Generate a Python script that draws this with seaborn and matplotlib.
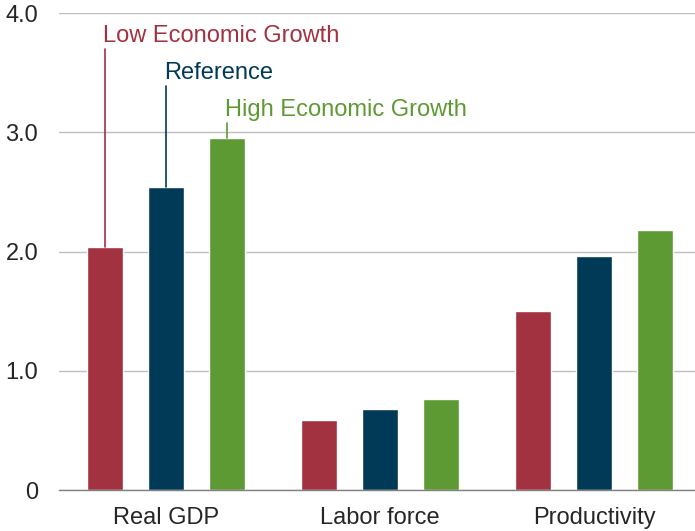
import pandas as pd
import matplotlib.pyplot as plt
import seaborn as sns

categories = ['Real GDP', 'Labor force', 'Productivity']
scenarios = ['Low Economic Growth', 'Reference', 'High Economic Growth']
low_growth = [2.04, 0.59, 1.50]
reference = [2.54, 0.68, 1.96]
high_growth = [2.95, 0.76, 2.18]
colors = ['#A33240', '#003A56', '#5E9A33']

# label placement for the leader lines on Real GDP (line top, text centre)
line_tops = [3.70, 3.39, 3.08]
text_y = [3.81, 3.50, 3.19]

rows = []
for s, vals in zip(scenarios, [low_growth, reference, high_growth]):
    for c, v in zip(categories, vals):
        rows.append({'category': c, 'scenario': s, 'value': v})
df = pd.DataFrame(rows)

sns.set_style('white')
plt.rcParams['font.family'] = ['Liberation Sans', 'DejaVu Sans']
plt.rcParams['font.size'] = 17

fig = plt.figure(figsize=(6.95, 5.31), dpi=100)
ax = fig.add_axes([0.085, 0.0772, 0.924, 0.8983])

sns.barplot(data=df, x='category', y='value', hue='scenario', order=categories,
            hue_order=scenarios, palette=colors, width=0.855, gap=0.41,
            saturation=1, legend=False, ax=ax)

ax.set_ylim(0, 4)
ax.set_xlim(-0.5, 2.5)
ax.set_yticks([0, 1, 2, 3, 4])
ax.set_yticklabels(['0', '1.0', '2.0', '3.0', '4.0'])
ax.yaxis.grid(True, color='#BFBFBF', linewidth=1)
ax.set_axisbelow(True)
ax.set_xlabel('')
ax.set_ylabel('')
for side in ['top', 'right', 'left']:
    ax.spines[side].set_visible(False)
ax.spines['bottom'].set_color('#808080')
ax.spines['bottom'].set_linewidth(1)

ax.set_xticks([-0.5, 0.5, 1.5, 2.5], minor=True)
ax.tick_params(axis='x', which='minor', length=8, color='#808080', width=1)
ax.tick_params(axis='x', which='major', length=0, pad=12, labelsize=17)
ax.tick_params(axis='y', length=0, pad=15, labelsize=17)

# leader lines and labels on the first group
for i, s in enumerate(scenarios):
    bar = ax.containers[i][0]
    cx = bar.get_x() + bar.get_width() / 2
    ax.plot([cx, cx], [bar.get_height(), line_tops[i]], color=colors[i], lw=1.2)
    ax.text(cx - 0.008, text_y[i], s, color=colors[i], ha='left', va='center',
            fontsize=17)

fig.savefig('out.png', dpi=100)
